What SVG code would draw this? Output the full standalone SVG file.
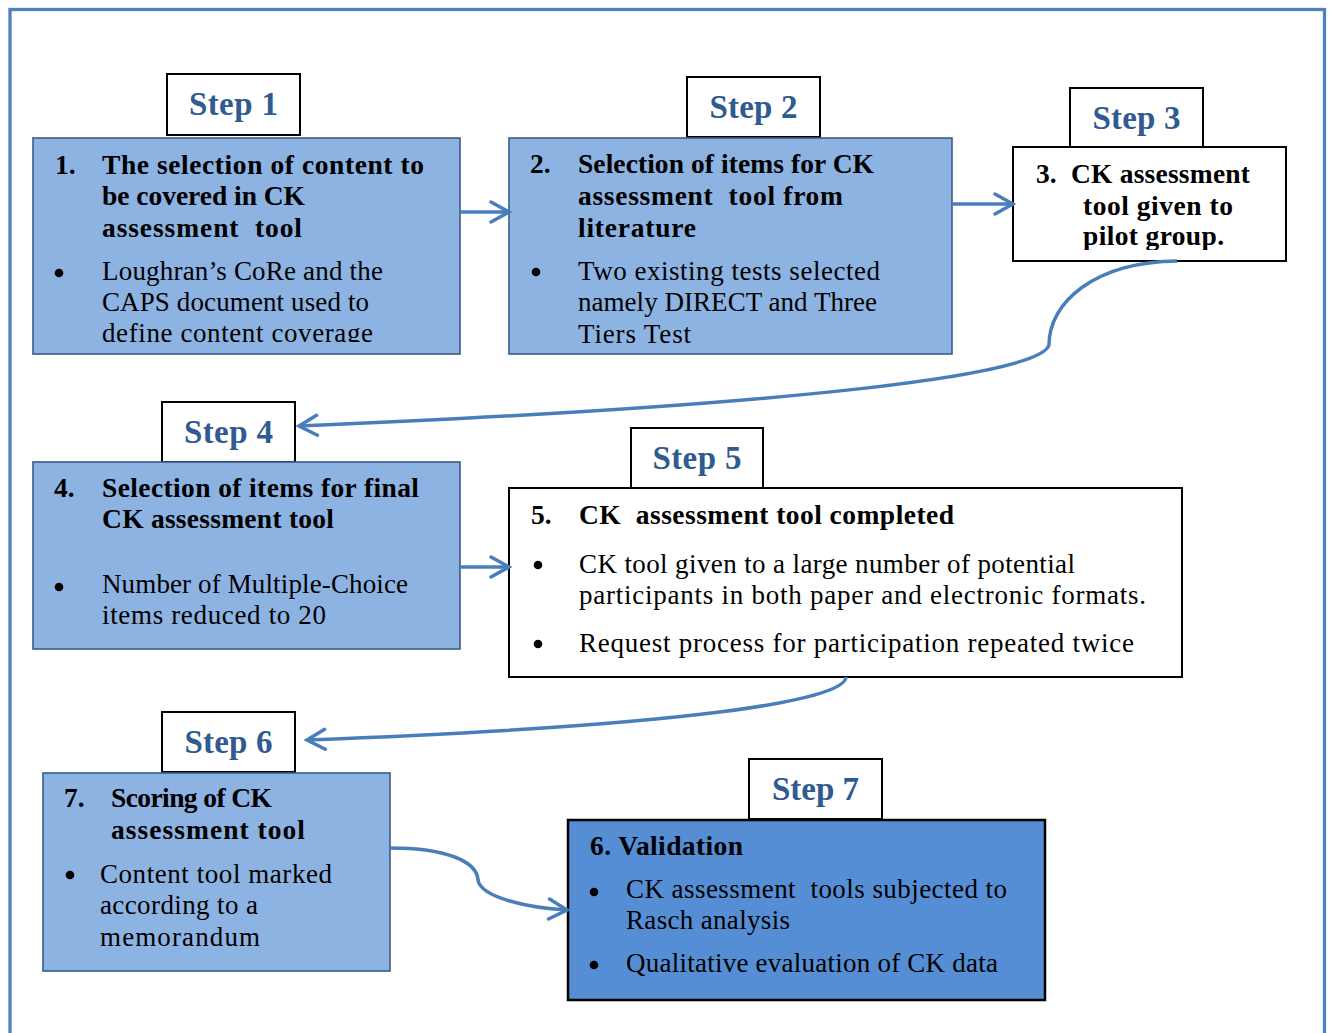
<svg xmlns="http://www.w3.org/2000/svg" width="1332" height="1033" viewBox="0 0 1332 1033">
<style>
.frame{fill:none;stroke:#4f81bd;stroke-width:3.3}
.lbl{fill:#fff;stroke:#000;stroke-width:2}
.lt{fill:#8db3e2;stroke:#385d8a;stroke-width:1.6}
.wh{fill:#fff;stroke:#000;stroke-width:2}
.dk{fill:#558ed5;stroke:#000;stroke-width:2.5}
.step{font-family:"Liberation Serif",serif;font-weight:bold;font-size:33px;fill:#2f5b91;text-anchor:middle}
.h{font-family:"Liberation Serif",serif;font-weight:bold;font-size:27.5px;fill:#000}
.b{font-family:"Liberation Serif",serif;font-size:27px;fill:#000}
.bul{fill:#000}
.con{fill:none;stroke:#4a7ebb;stroke-width:3.5;marker-end:url(#ah)}
</style>
<defs>
<marker id="ah" markerUnits="userSpaceOnUse" viewBox="0 0 24 24" markerWidth="24" markerHeight="24" refX="21" refY="12" orient="auto">
<path d="M3,2 L21,12 L3,22" fill="none" stroke="#4a7ebb" stroke-width="3.5" stroke-linecap="round"/>
</marker>
<clipPath id="c1"><rect x="33" y="138" width="427" height="204"/></clipPath>
<clipPath id="c3"><rect x="1013" y="147" width="273" height="103"/></clipPath>
</defs>
<rect class="frame" x="10" y="9.5" width="1314.5" height="1100"/>

<g id="step1">
<rect class="lbl" x="167" y="74" width="133" height="61"/>
<text class="step" x="233.5" y="115" textLength="89">Step 1</text>
</g>
<g id="node1">
<rect class="lt" x="33" y="138" width="427" height="216"/>
<g clip-path="url(#c1)">
<text class="h" x="55" y="174">1.</text>
<text class="h" x="102" y="174" textLength="322">The selection of content to</text>
<text class="h" x="102" y="205" textLength="203">be covered in CK</text>
<text class="h" x="102" y="237" textLength="200" style="white-space:pre">assessment  tool</text>
<circle class="bul" cx="59" cy="273" r="4.3"/>
<text class="b" x="102" y="280" textLength="281">Loughran’s CoRe and the</text>
<text class="b" x="102" y="311" textLength="267">CAPS document used to</text>
<text class="b" x="102" y="342" textLength="271">define content coverage</text>
</g>
</g>

<g id="step2">
<rect class="lbl" x="687" y="77" width="133" height="60"/>
<text class="step" x="753.5" y="118" textLength="88">Step 2</text>
</g>
<g id="node2">
<rect class="lt" x="509" y="138" width="443" height="216"/>
<text class="h" x="530" y="173">2.</text>
<text class="h" x="578" y="173" textLength="296">Selection of items for CK</text>
<text class="h" x="578" y="205" textLength="265" style="white-space:pre">assessment  tool from</text>
<text class="h" x="578" y="237" textLength="118">literature</text>
<circle class="bul" cx="536" cy="272" r="4.3"/>
<text class="b" x="578" y="280" textLength="302">Two existing tests selected</text>
<text class="b" x="578" y="311" textLength="299">namely DIRECT and Three</text>
<text class="b" x="578" y="343" textLength="113">Tiers Test</text>
</g>

<g id="step3">
<rect class="lbl" x="1070" y="88" width="133" height="59"/>
<text class="step" x="1136.5" y="129" textLength="88">Step 3</text>
</g>
<g id="node3">
<rect class="wh" x="1013" y="147" width="273" height="114"/>
<g clip-path="url(#c3)">
<text class="h" x="1036" y="183">3.</text>
<text class="h" x="1071" y="183" textLength="179">CK assessment</text>
<text class="h" x="1083" y="215" textLength="150">tool given to</text>
<text class="h" x="1083" y="245" textLength="141">pilot group.</text>
</g>
</g>

<g id="step4">
<rect class="lbl" x="162" y="402" width="133" height="60"/>
<text class="step" x="228.5" y="443" textLength="89">Step 4</text>
</g>
<g id="node4">
<rect class="lt" x="33" y="462" width="427" height="187"/>
<text class="h" x="54" y="497">4.</text>
<text class="h" x="102" y="497" textLength="317">Selection of items for final</text>
<text class="h" x="102" y="528" textLength="232">CK assessment tool</text>
<circle class="bul" cx="59" cy="587" r="4.3"/>
<text class="b" x="102" y="593" textLength="306">Number of Multiple-Choice</text>
<text class="b" x="102" y="624" textLength="224">items reduced to 20</text>
</g>

<g id="step5">
<rect class="lbl" x="631" y="428" width="132" height="60"/>
<text class="step" x="697" y="469" textLength="89">Step 5</text>
</g>
<g id="node5">
<rect class="wh" x="509" y="488" width="673" height="189"/>
<text class="h" x="531" y="524">5.</text>
<text class="h" x="579" y="524" textLength="375" style="white-space:pre">CK  assessment tool completed</text>
<circle class="bul" cx="538" cy="565" r="4.3"/>
<text class="b" x="579" y="573" textLength="496">CK tool given to a large number of potential</text>
<text class="b" x="579" y="604" textLength="567">participants in both paper and electronic formats.</text>
<circle class="bul" cx="538" cy="644" r="4.3"/>
<text class="b" x="579" y="652" textLength="555">Request process for participation repeated twice</text>
</g>

<g id="step6">
<rect class="lbl" x="162" y="712" width="133" height="60"/>
<text class="step" x="228.5" y="753" textLength="88">Step 6</text>
</g>
<g id="node7">
<rect class="lt" x="43" y="773" width="347" height="198"/>
<text class="h" x="64" y="807">7.</text>
<text class="h" x="111" y="807" textLength="161">Scoring of CK</text>
<text class="h" x="111" y="839" textLength="194">assessment tool</text>
<circle class="bul" cx="70" cy="875" r="4.3"/>
<text class="b" x="100" y="883" textLength="232">Content tool marked</text>
<text class="b" x="100" y="914" textLength="158">according to a</text>
<text class="b" x="100" y="946" textLength="160">memorandum</text>
</g>

<g id="step7">
<rect class="lbl" x="749" y="759" width="133" height="60"/>
<text class="step" x="815.5" y="800" textLength="87">Step 7</text>
</g>
<g id="node6">
<rect class="dk" x="568" y="820" width="477" height="180"/>
<text class="h" x="590" y="855" textLength="153">6. Validation</text>
<circle class="bul" cx="594" cy="892" r="4.3"/>
<text class="b" x="626" y="898" textLength="381" style="white-space:pre">CK assessment  tools subjected to</text>
<text class="b" x="626" y="929" textLength="164">Rasch analysis</text>
<circle class="bul" cx="594" cy="965" r="4.3"/>
<text class="b" x="626" y="972" textLength="372">Qualitative evaluation of CK data</text>
</g>

<g id="connectors">
<path class="con" d="M460,212 L509,212"/>
<path class="con" d="M952,204 L1013,204"/>
<path class="con" d="M1177,261 C1095,262 1049,302 1049,345 C1040,375 800,405 299,426"/>
<path class="con" d="M460,567 L509,567"/>
<path class="con" d="M846,677 C845,700 700,725 307,740"/>
<path class="con" d="M390,848 C448,848 477,862 478,880 C481,898 530,908 567,910"/>
</g>
</svg>
